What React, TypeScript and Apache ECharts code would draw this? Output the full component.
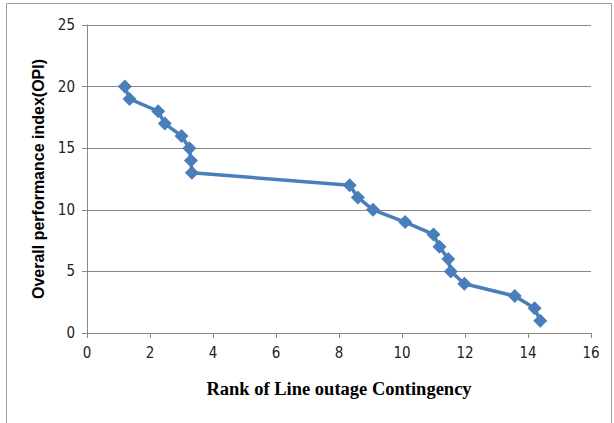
import React, { useEffect, useRef } from "react";
import * as echarts from "echarts";

const rankValues = [1.2, 1.35, 2.26, 2.47, 3.0, 3.25, 3.3, 3.33, 8.34, 8.6, 9.08, 10.1, 11.0, 11.19, 11.47, 11.55, 11.98, 13.58, 14.21, 14.39];
const opiValues = [20, 19, 18, 17, 16, 15, 14, 13, 12, 11, 10, 9, 8, 7, 6, 5, 4, 3, 2, 1];
const xTitle = "Rank of Line outage Contingency";
const yTitle = "Overall performance index(OPI)";

export default function App() {
  const ref = useRef<HTMLDivElement>(null);
  useEffect(() => {
    if (!ref.current) return;
    const chart = echarts.init(ref.current, undefined, { renderer: "svg" });
    const data = rankValues.map((x, i) => [x, opiValues[i]]);
    chart.setOption({
      animation: false,
      backgroundColor: "#ffffff",
      graphic: [
        {
          type: "rect",
          shape: { x: 6.5, y: 3.5, width: 605, height: 430 },
          style: { fill: "none", stroke: "#a0a0a0", lineWidth: 1 },
          silent: true,
        },
      ],
      grid: { left: 87, right: 23, top: 25, bottom: 90 },
      xAxis: {
        type: "value",
        min: 0,
        max: 16,
        interval: 2,
        name: xTitle,
        nameLocation: "middle",
        nameGap: 46,
        nameTextStyle: {
          fontFamily: "Liberation Serif",
          fontWeight: "bold",
          fontSize: 18.5,
          color: "#000",
        },
        axisLine: { show: true, lineStyle: { color: "#888", width: 1 } },
        axisTick: { show: true, length: 5, lineStyle: { color: "#888" } },
        axisLabel: { fontFamily: "DejaVu Sans Condensed, Liberation Sans", fontSize: 15, color: "#222", margin: 12 },
        splitLine: { show: false },
      },
      yAxis: {
        type: "value",
        min: 0,
        max: 25,
        interval: 5,
        name: yTitle,
        nameLocation: "middle",
        nameGap: 41,
        nameTextStyle: {
          fontFamily: "Liberation Sans",
          fontWeight: "bold",
          fontSize: 16,
          color: "#000",
        },
        axisLine: { show: true, lineStyle: { color: "#888", width: 1 } },
        axisTick: { show: true, length: 5, lineStyle: { color: "#888" } },
        axisLabel: { fontFamily: "DejaVu Sans Condensed, Liberation Sans", fontSize: 15, color: "#222", margin: 12 },
        splitLine: { show: true, lineStyle: { color: "#888", width: 1 } },
      },
      series: [
        {
          type: "line",
          data,
          symbol: "diamond",
          symbolSize: 14,
          lineStyle: { color: "#4a7ebb", width: 3.5 },
          itemStyle: { color: "#4a7ebb" },
        },
      ],
    });
    return () => chart.dispose();
  }, []);
  return <div ref={ref} style={{ width: 614, height: 423, position: "absolute", left: 0, top: 0 }} />;
}
